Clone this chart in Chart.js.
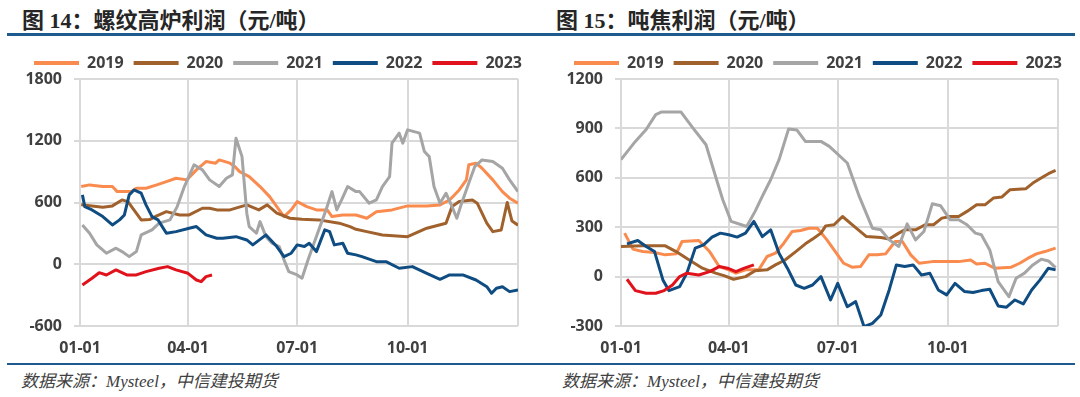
<!DOCTYPE html>
<html lang="zh">
<head>
<meta charset="UTF-8" />
<title>螺纹高炉利润 / 吨焦利润</title>
<script src="https://cdn.jsdelivr.net/npm/chart.js"></script>
<style>
  body { margin: 0; width: 1080px; height: 397px; background: #fff; position: relative; overflow: hidden; }
  .title { position: absolute; top: 2px; font: bold 22px "Liberation Serif", "Noto Sans CJK SC", serif; color: #262626; white-space: nowrap; }
  .rule { position: absolute; left: 7px; width: 1068px; background: #1f5a8f; }
  .src { position: absolute; top: 367px; font: italic 17px "Liberation Serif", "Noto Sans CJK SC", serif; color: #404040; white-space: nowrap; }
  .box { position: absolute; top: 40px; width: 540px; height: 320px; }
</style>
</head>
<body>
  <div class="title" style="left:22px">图 14：螺纹高炉利润（元/吨）</div>
  <div class="title" style="left:556px">图 15：吨焦利润（元/吨）</div>
  <div class="rule" style="top:33px;height:3px"></div>
  <div class="box" style="left:0"><canvas id="rebarChart" width="540" height="320"></canvas></div>
  <div class="box" style="left:540px"><canvas id="cokeChart" width="540" height="320"></canvas></div>
  <div class="rule" style="top:363px;height:2px"></div>
  <div class="src" style="left:21px">数据来源：Mysteel，中信建投期货</div>
  <div class="src" style="left:562px">数据来源：Mysteel，中信建投期货</div>

<script>
// x 轴用一年中的天数 (0 = 01-01)
const tickDays = [0, 90, 181, 273];
const tickLabels = ['01-01', '04-01', '07-01', '10-01'];
const years = ['2019', '2020', '2021', '2022', '2023'];
const colors = ['#f98b4f', '#a0612c', '#a5a5a5', '#0f4c81', '#e0121c'];

// 图14 螺纹高炉利润
const rebar2019Days = [1,8,19,27,31,43,47,55,64,72,80,89,97,105,113,116,125,129,133,141,150,158,164,170,176,181,189,197,206,210,219,230,239,247,260,273,289,300,308,316,322,324,330,335,344,352,358,365];
const rebar2019 = [755,771,755,755,706,706,739,739,771,803,836,820,917,998,982,1014,982,949,900,852,755,657,560,463,528,609,560,528,528,463,479,479,447,511,528,567,567,576,625,722,820,966,982,933,820,706,642,593];
const rebar2020Days = [1,10,19,27,35,40,44,51,58,64,72,83,91,102,108,114,125,139,149,156,164,175,185,199,216,225,230,239,252,273,289,305,310,316,327,331,339,344,351,356,360,365];
const rebar2020 = [577,567,554,567,625,609,544,431,434,470,511,479,479,544,544,528,528,577,528,577,496,447,437,431,399,366,340,317,285,268,350,399,560,609,625,593,399,317,333,600,420,380];
const rebar2021Days = [2,8,14,22,30,35,41,47,51,60,66,75,81,87,95,102,108,116,122,127,130,135,139,141,147,150,155,160,166,170,174,181,185,190,194,199,205,210,214,218,223,230,233,241,247,252,258,260,266,269,273,283,287,291,295,300,305,310,314,318,325,329,335,344,352,358,365];
const rebar2021 = [382,301,188,107,156,123,74,123,285,334,399,431,560,755,966,917,820,755,836,868,1225,1046,496,366,301,414,268,204,172,42,-72,-104,-136,42,172,334,528,706,528,625,755,706,706,593,625,755,852,1177,1274,1177,1306,1274,1095,1046,755,593,690,560,447,593,820,949,1014,998,933,820,706];
const rebar2022Days = [2,4,10,19,27,33,37,41,45,51,55,60,65,72,80,91,97,105,114,119,130,139,144,155,164,170,176,181,187,191,197,204,208,212,219,223,230,235,247,255,266,277,289,300,308,319,330,339,343,347,352,358,365];
const rebar2022 = [674,560,528,463,382,431,479,674,722,690,577,463,431,301,317,350,366,285,253,253,268,236,188,285,172,74,107,188,172,204,123,334,317,188,204,107,91,74,25,25,-39,-23,-88,-146,-104,-104,-153,-218,-282,-233,-218,-266,-250];
const rebar2023Days = [2,10,16,22,30,39,47,55,66,73,80,90,97,101,105,110];
const rebar2023 = [-201,-136,-82,-104,-55,-104,-104,-72,-39,-23,-55,-88,-153,-169,-120,-104];

// 图15 吨焦利润
const coke2019Days = [3,10,18,28,37,46,51,65,74,82,90,96,104,115,122,129,136,143,150,157,164,172,179,186,193,200,207,214,221,229,235,242,249,260,271,282,292,297,304,312,326,333,340,347,354,363];
const coke2019 = [264,167,152,146,132,138,213,219,152,61,41,21,41,41,122,142,203,274,280,294,294,223,152,81,57,61,132,132,138,213,213,132,81,91,91,91,101,77,81,51,57,81,112,138,152,173];
const coke2020Days = [0,18,37,46,57,68,79,86,94,104,112,122,129,137,146,154,161,167,171,178,185,193,205,217,224,232,237,246,254,261,268,275,282,289,297,304,311,318,325,338,344,353,357,363];
const coke2020 = [183,187,187,152,101,51,21,6,-16,0,36,41,71,101,152,199,233,264,308,315,365,315,243,238,228,264,284,284,315,315,355,365,365,396,436,436,477,483,528,533,568,608,625,645];
const coke2021Days = [0,12,21,29,34,50,60,71,79,85,92,105,112,118,125,132,140,147,154,167,174,189,199,210,217,224,232,239,246,253,260,267,275,282,289,296,301,308,315,324,330,337,344,351,357,363];
const coke2021 = [710,821,893,984,1000,1000,903,801,608,467,335,304,396,487,588,710,897,890,821,821,791,690,487,294,284,223,183,320,223,274,442,430,345,345,315,264,254,162,-30,-122,-10,21,71,106,95,55];
const coke2022Days = [5,14,21,28,35,40,49,55,62,69,76,83,90,97,104,111,118,125,132,139,146,153,160,167,175,181,189,196,203,210,217,224,230,237,244,251,258,265,272,279,287,294,301,308,315,322,329,336,343,350,357,363];
const coke2022 = [199,219,183,152,-20,-85,-61,21,173,193,240,264,254,240,264,335,243,284,142,51,-51,-71,-51,0,-142,-41,-183,-152,-304,-284,-233,-81,71,61,71,10,20,-81,-111,-41,-91,-97,-85,-77,-178,-186,-142,-166,-81,-20,51,41];
const coke2023Days = [5,12,21,29,36,43,49,55,65,74,82,89,96,103,111];
const coke2023 = [-16,-85,-101,-101,-85,-51,0,21,10,30,61,51,30,51,71];

const pts = (days, vals) => days.map((d, i) => ({ x: d, y: vals[i] }));

Chart.defaults.font.family = '"Open Sans", sans-serif';
Chart.defaults.color = '#404040';

// 固定图例高度，让绘图区顶端对齐；图例整体右移一点
const legendGap = {
  id: 'legendGap',
  beforeInit(chart) {
    const fit = chart.legend.fit;
    chart.legend.fit = function () {
      fit.bind(chart.legend)();
      this.height = 34;
    };
  },
  afterLayout(chart) {
    chart.legend.left += 19;
    chart.legend.right += 19;
  }
};

function drawChart(id, series, yMin, yMax, step, axisWidth) {
  const datasets = series.map((s, i) => ({
    label: years[i],
    data: pts(s[0], s[1]),
    borderColor: colors[i],
    backgroundColor: colors[i],
    borderWidth: 3,
    pointRadius: 0,
    borderJoinStyle: 'round',
    tension: 0,
    order: 4 - i
  }));

  return new Chart(document.getElementById(id), {
    type: 'line',
    data: { datasets },
    plugins: [legendGap],
    options: {
      responsive: false,
      animation: false,
      layout: { padding: { top: 5, right: 22, left: 0, bottom: 0 } },
      plugins: {
        tooltip: { enabled: false },
        legend: {
          position: 'top',
          labels: {
            boxWidth: 45,
            boxHeight: 4,
            padding: 10,
            font: { size: 16, weight: 'bold' },
            color: '#404040',
            sort: (a, b) => a.datasetIndex - b.datasetIndex,
            generateLabels: chart => Chart.defaults.plugins.legend.labels.generateLabels(chart)
              .map(l => Object.assign(l, { lineWidth: 0 }))
          }
        }
      },
      scales: {
        x: {
          type: 'linear',
          min: 0,
          max: 365,
          afterBuildTicks: scale => { scale.ticks = tickDays.concat([365]).map(v => ({ value: v })); },
          afterFit: scale => { scale.height = 34; },
          ticks: {
            padding: 13,
            maxRotation: 0,
            autoSkip: false,
            font: { size: 16, weight: 'bold' },
            callback: v => { const k = tickDays.indexOf(v); return k >= 0 ? tickLabels[k] : ''; }
          },
          grid: { color: '#d9d9d9', lineWidth: 2, drawTicks: false },
          border: { display: false }
        },
        y: {
          min: yMin,
          max: yMax,
          afterFit: scale => { scale.width = axisWidth; },
          ticks: { stepSize: step, padding: 12, font: { size: 16, weight: 'bold' }, callback: v => String(v) },
          grid: { color: '#d9d9d9', lineWidth: 2, tickLength: 6 },
          border: { display: false }
        }
      }
    }
  });
}

drawChart('rebarChart', [
  [rebar2019Days, rebar2019],
  [rebar2020Days, rebar2020],
  [rebar2021Days, rebar2021],
  [rebar2022Days, rebar2022],
  [rebar2023Days, rebar2023]
], -600, 1800, 600, 80);

drawChart('cokeChart', [
  [coke2019Days, coke2019],
  [coke2020Days, coke2020],
  [coke2021Days, coke2021],
  [coke2022Days, coke2022],
  [coke2023Days, coke2023]
], -300, 1200, 300, 81);
</script>
</body>
</html>
